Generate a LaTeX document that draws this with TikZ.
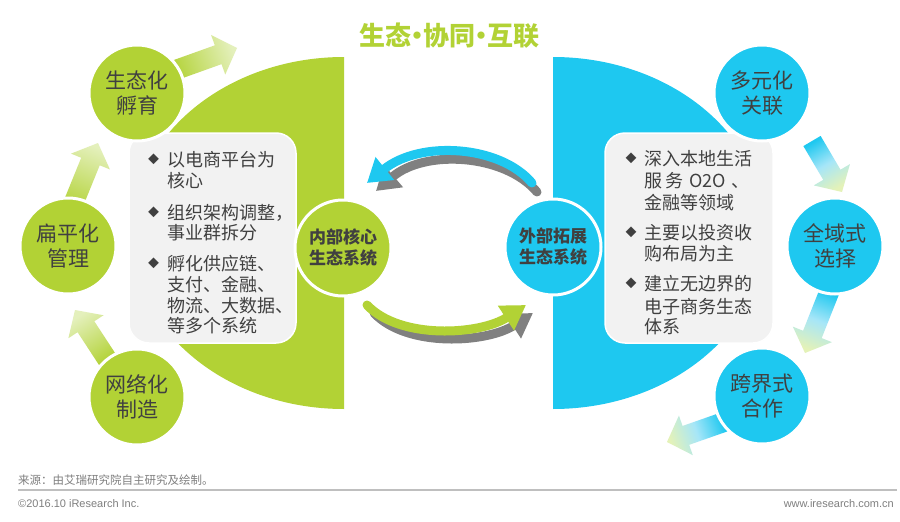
\documentclass[tikz,border=0pt]{standalone}
\usepackage{fontspec}
\setmainfont{Noto Sans CJK SC}
\newfontfamily\latinfont{Liberation Sans}
\usetikzlibrary{arrows.meta,calc}
\definecolor{eco}{HTML}{B2D235}
\definecolor{ecopale}{HTML}{E4F0BC}
\definecolor{sky}{HTML}{1EC8F0}
\definecolor{skymid}{HTML}{A6E6F8}
\definecolor{skypale}{HTML}{E4F2B8}
\definecolor{panel}{HTML}{F2F2F2}
\definecolor{ink}{HTML}{404040}
\definecolor{shadowgray}{HTML}{808080}
\definecolor{foot}{HTML}{7F7F7F}
\definecolor{rulegray}{HTML}{BFBFBF}
\tikzset{
  hub/.style={circle, draw=white, line width=3pt, minimum size=96pt, inner sep=0pt,
    align=center, text=ink, font=\fontsize{21pt}{25pt}\selectfont},
  greenhub/.style={hub, fill=eco},
  bluehub/.style={hub, fill=sky},
  corehub/.style={font=\bfseries\fontsize{17pt}{21pt}\selectfont},
  panelbox/.style={rectangle, rounded corners=20pt, fill=panel, draw=white, line width=1.5pt,
    minimum width=167pt, minimum height=210pt, inner sep=0pt},
  item/.style={anchor=base west, inner sep=0pt, text=ink, font=\fontsize{18pt}{21pt}\selectfont},
  bulletmark/.style={anchor=center, inner sep=0pt, text=ink, font=\fontsize{11pt}{11pt}\selectfont},
  band/.style={line width=9pt, line cap=round},
  footnote/.style={inner sep=0pt, text=foot},
}
\newcommand\blockarrow[4]{%
  \coordinate (ba-neck) at ($(#2)!20pt!(#1)$);
  \shade[#4, shading angle=#3]
    ($(#1)!10pt!90:(#2)$) -- ($(ba-neck)!10pt!90:(#2)$) -- ($(ba-neck)!21pt!90:(#2)$)
    -- (#2) -- ($(ba-neck)!21pt!-90:(#2)$) -- ($(ba-neck)!10pt!-90:(#2)$)
    -- ($(#1)!10pt!-90:(#2)$) -- cycle;}
\newcommand\titledot{\hspace{-7pt}•\hspace{-7pt}}
\begin{document}
\begin{tikzpicture}[x=1pt,y=-1pt]
\useasboundingbox (0,0) rectangle (900,522);
\fill[white] (0,0) rectangle (900,522);

% half ellipses
\fill[eco] (344,57) arc[start angle=90, end angle=270, x radius=213pt, y radius=176pt] -- cycle;
\fill[sky] (553,57) arc[start angle=90, end angle=-90, x radius=213pt, y radius=176pt] -- cycle;

% panels
\node[panelbox] (lbox) at (212.5,238) {};
\node[panelbox, minimum width=168pt] (rbox) at (689,238) {};

% block arrows
\coordinate (a1t) at (170,72);  \coordinate (a1h) at (237,48);
\coordinate (a2t) at (74,202);  \coordinate (a2h) at (98,143);
\coordinate (a3t) at (109,362); \coordinate (a3h) at (75,310);
\coordinate (a4t) at (812,141); \coordinate (a4h) at (842,192);
\coordinate (a5t) at (830,290); \coordinate (a5h) at (805,353);
\coordinate (a6t) at (724,422); \coordinate (a6h) at (667,442);
\blockarrow{a1t}{a1h}{-70}{top color=ecopale, bottom color=eco}
\blockarrow{a2t}{a2h}{-22}{top color=ecopale, bottom color=eco!85!ecopale}
\blockarrow{a3t}{a3h}{33}{top color=ecopale, bottom color=eco}
\blockarrow{a4t}{a4h}{-149.5}{top color=skypale, bottom color=sky, middle color=skymid}
\blockarrow{a5t}{a5h}{158.4}{top color=skypale, bottom color=sky, middle color=skymid}
\blockarrow{a6t}{a6h}{109.3}{top color=skypale, bottom color=sky, middle color=skymid}

% curved arrows
\coordinate (btail) at (532,183); \coordinate (btip) at (367,183);
\coordinate (bstail) at (537,192); \coordinate (bstip) at (376,191);
\draw[band, shadowgray, -{Triangle[width=28pt,length=23pt]}] (bstail) .. controls (505,154) and (425,149) .. (bstip);
\draw[band, sky, -{Triangle[width=28pt,length=23pt]}] (btail) .. controls (500,145) and (420,140) .. (btip);
\coordinate (gtail) at (367,305); \coordinate (gtip) at (526,305);
\coordinate (gstail) at (374,313); \coordinate (gstip) at (533,313);
\draw[band, shadowgray, -{Triangle[width=28pt,length=24pt]}] (gstail) .. controls (407,348) and (487,343) .. (gstip);
\draw[band, eco, -{Triangle[width=28pt,length=24pt]}] (gtail) .. controls (400,340) and (480,335) .. (gtip);

% circles
\node[greenhub] (gen) at (137,93) {生态化\\孵育};
\node[greenhub] (flat) at (68,246) {扁平化\\管理};
\node[greenhub] (net) at (137,397) {网络化\\制造};
\node[greenhub, corehub] (core) at (343,248) {内部核心\\生态系统};
\node[bluehub, corehub] (ext) at (553,247) {外部拓展\\生态系统};
\node[bluehub] (multi) at (762,93) {多元化\\关联};
\node[bluehub] (full) at (835,246) {全域式\\选择};
\node[bluehub] (cross) at (762,396) {跨界式\\合作};

% left list
\node[bulletmark] (lb1) at (153.5,159) {◆};
\node[bulletmark] (lb2) at (153.5,212) {◆};
\node[bulletmark] (lb3) at (153.5,263) {◆};
\node[item] (l1) at (167,166) {以电商平台为};
\node[item] (l2) at (167,187) {核心};
\node[item] (l3) at (167,219) {组织架构调整，};
\node[item] (l4) at (167,239) {事业群拆分};
\node[item] (l5) at (167,270) {孵化供应链、};
\node[item] (l6) at (167,291) {支付、金融、};
\node[item] (l7) at (167,312) {物流、大数据、};
\node[item] (l8) at (167,332) {等多个系统};

% right list
\node[bulletmark] (rb1) at (631,158) {◆};
\node[bulletmark] (rb2) at (631,232) {◆};
\node[bulletmark] (rb3) at (631,283) {◆};
\node[item] (r1) at (644,165) {深入本地生活};
\node[item] (r2) at (644,187) {服\,务\,\,O2O\,\,、};
\node[item] (r3) at (644,209) {金融等领域};
\node[item] (r4) at (644,239) {主要以投资收};
\node[item] (r5) at (644,260) {购布局为主};
\node[item] (r6) at (644,290) {建立无边界的};
\node[item] (r7) at (644,313) {电子商务生态};
\node[item] (r8) at (644,333) {体系};

% title
\node[font=\bfseries\fontsize{26pt}{26pt}\selectfont, text=eco, inner sep=0pt] (title) at (449,36) {生态\titledot 协同\titledot 互联};

% footer
\node[footnote, anchor=west, font=\fontsize{11.5pt}{12pt}\selectfont] (src) at (18,480) {来源：由艾瑞研究院自主研究及绘制。};
\coordinate (rulel) at (18,490); \coordinate (ruler) at (897,490);
\draw[rulegray, line width=1.5pt] (rulel) -- (ruler);
\node[footnote, anchor=west, font=\latinfont\fontsize{11pt}{12pt}\selectfont] (copy) at (18,504) {©2016.10 iResearch Inc.};
\node[footnote, anchor=east, font=\latinfont\fontsize{11pt}{12pt}\selectfont] (web) at (894,504) {www.iresearch.com.cn};
\end{tikzpicture}
\end{document}
